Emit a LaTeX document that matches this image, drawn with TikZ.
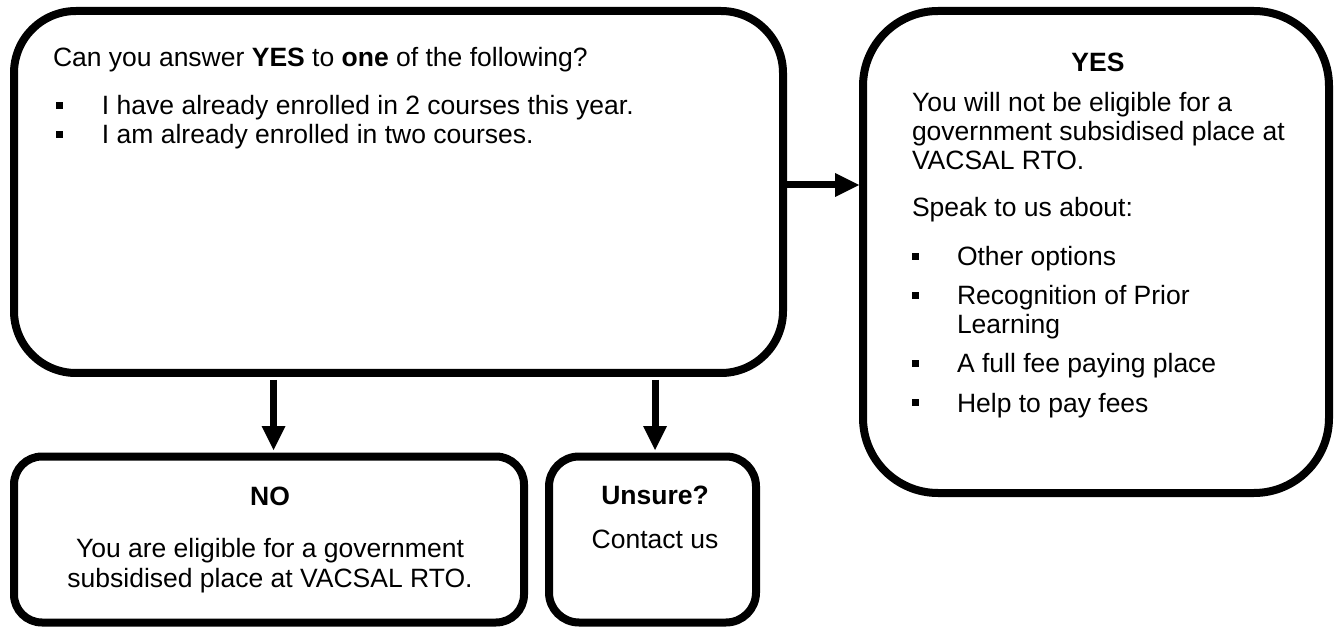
\documentclass[tikz,border=0pt]{standalone}
\usepackage{fontspec}
\setmainfont{Liberation Sans}
\usetikzlibrary{arrows.meta}
\newcommand\bulsq[1]{\makebox[#1][l]{\rule[6pt]{7pt}{7pt}}}
\begin{document}
\begin{tikzpicture}[x=1pt,y=-1pt,
  box/.style={draw, line width=8pt, inner sep=0pt, outer sep=0pt},
  arr/.style={line width=7pt, -{Triangle[length=24pt 0 0,width=24pt 0 0,line width=0pt 0 0]}},
  txt/.style={inner sep=0pt, outer sep=0pt, font=\fontsize{26.5pt}{29pt}\selectfont},
]
\useasboundingbox (0,0) rectangle (1334,628);
% boxes
\node[box, rounded corners=62pt, minimum width=769pt, minimum height=362pt] (main) at (398.5,192) {};
\node[box, rounded corners=75pt, minimum width=466pt, minimum height=482pt] (yes) at (1096,252) {};
\node[box, rounded corners=28pt, minimum width=510pt, minimum height=166pt] (no) at (269,539.5) {};
\node[box, rounded corners=30pt, minimum width=207pt, minimum height=166pt] (unsure) at (652.5,539.5) {};
% main text
\node[txt, anchor=base west] (q) at (53,67) {Can you answer \textbf{YES} to \textbf{one} of the following?};
\node[txt, anchor=base west] (q1) at (56,115) {\bulsq{46pt}I have already enrolled in 2 courses this year.};
\node[txt, anchor=base west] (q2) at (56,144) {\bulsq{46pt}I am already enrolled in two courses.};
% yes text
\node[txt, anchor=base] (yh) at (1098,72) {\textbf{YES}};
\node[txt, anchor=base west] (y1) at (912,112) {You will not be eligible for a};
\node[txt, anchor=base west] (y2) at (912,141) {government subsidised place at};
\node[txt, anchor=base west] (y3) at (912,170) {VACSAL RTO.};
\node[txt, anchor=base west] (y4) at (912,217) {Speak to us about:};
\node[txt, anchor=base west] (b1) at (912,266) {\bulsq{45pt}Other options};
\node[txt, anchor=base west] (b2) at (912,305) {\bulsq{45pt}Recognition of Prior};
\node[txt, anchor=base west] (b2b) at (957,334) {Learning};
\node[txt, anchor=base west] (b3) at (912,373) {\bulsq{45pt}A full fee paying place};
\node[txt, anchor=base west] (b4) at (912,412) {\bulsq{45pt}Help to pay fees};
% no text
\node[txt, anchor=base] (nh) at (270,505) {\textbf{NO}};
\node[txt, anchor=base] (n1) at (270,557) {You are eligible for a government};
\node[txt, anchor=base] (n2) at (270,587) {subsidised place at VACSAL RTO.};
% unsure text
\node[txt, anchor=base] (uh) at (655,504) {\textbf{Unsure?}};
\node[txt, anchor=base] (u1) at (655,548) {Contact us};
% arrows
\draw[arr, shorten <=7pt, shorten >=6.5pt] ([xshift=4.5pt]no.north |- main.south) -- ([xshift=4.5pt]no.north);
\draw[arr, shorten <=7pt, shorten >=6.5pt] ([xshift=2.5pt]unsure.north |- main.south) -- ([xshift=2.5pt]unsure.north);
\draw[arr, shorten <=4pt, shorten >=4pt] ([yshift=7pt]main.east) -- ([yshift=7pt]main.east -| yes.west);
\end{tikzpicture}
\end{document}
